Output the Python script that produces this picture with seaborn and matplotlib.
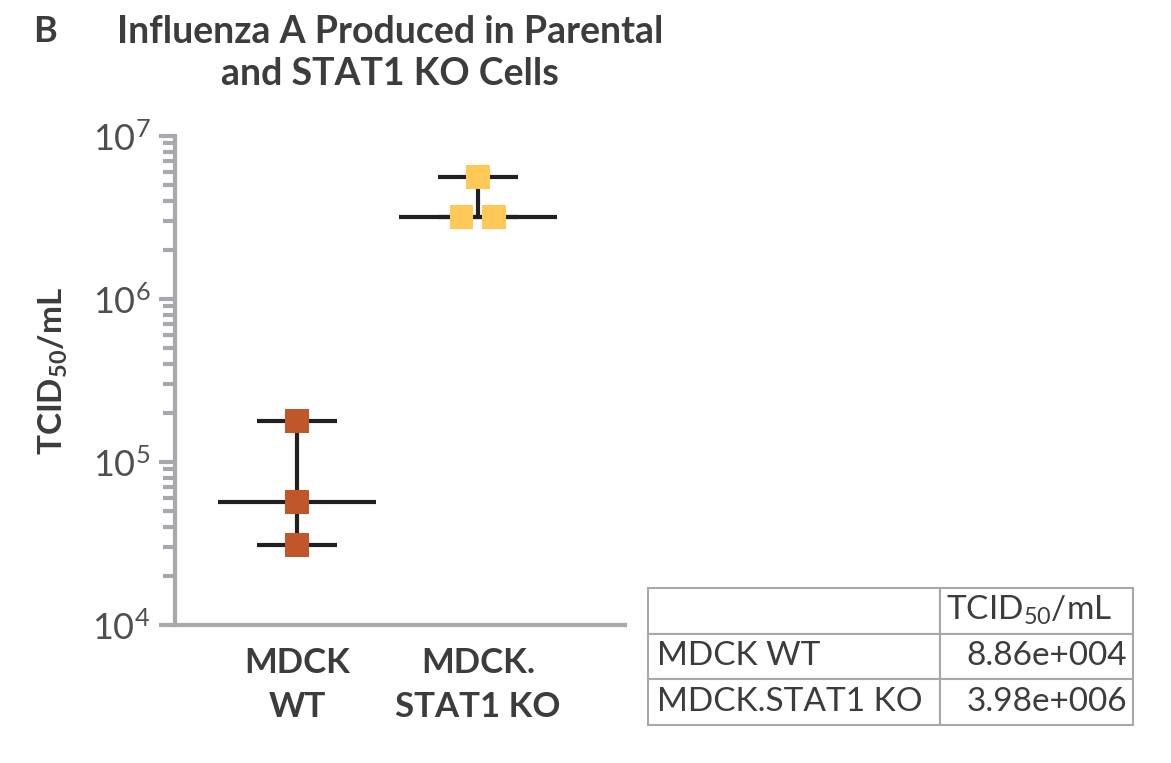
import numpy as np
import pandas as pd
import matplotlib
matplotlib.use("Agg")
import matplotlib.pyplot as plt
import seaborn as sns
from matplotlib.ticker import LogLocator, NullFormatter

# data
groups = ["MDCK\nWT", "MDCK.\nSTAT1 KO"]
wt_values = [1.78e5, 5.7e4, 3.1e4]
ko_values = [5.6e6, 3.17e6, 3.17e6]
group_colors = ["#C0562A", "#FFC857"]

table_header = ["", "TCID$_{50}$/mL"]
table_rows = [["MDCK WT", "8.86e+004"], ["MDCK.STAT1 KO", "3.98e+006"]]

TEXT = "#3C3C3C"
AXIS = "#A7A9AC"
LINE = "#231F20"

sns.set_style("white")
plt.rcParams["font.family"] = ["Lato", "DejaVu Sans"]
plt.rcParams["mathtext.default"] = "regular"

df = pd.DataFrame({
    "group": [groups[0]] * len(wt_values) + [groups[1]] * len(ko_values),
    "titer": wt_values + ko_values,
})
df["gidx"] = df["group"].map({g: i for i, g in enumerate(groups)})
# spread tied values side by side, like the original scatter plot does
df["rank"] = df.groupby(["group", "titer"]).cumcount()
df["nties"] = df.groupby(["group", "titer"])["titer"].transform("size")
df["xpos"] = df["gidx"] + (df["rank"] - (df["nties"] - 1) / 2) * 0.18

fig = plt.figure(figsize=(11.71, 7.63), dpi=100)
ax = fig.add_axes([0.1494, 0.1809, 0.3843, 0.6409])
ax.set_yscale("log")

# median and range bars
for i, g in enumerate(groups):
    v = df.loc[df["group"] == g, "titer"].to_numpy()
    ax.hlines(np.median(v), i - 0.436, i + 0.436, color=LINE, lw=3, zorder=2)
    ax.hlines([v.min(), v.max()], i - 0.22, i + 0.22, color=LINE, lw=3, zorder=2)
    ax.vlines(i, v.min(), v.max(), color=LINE, lw=3, zorder=2)

sns.scatterplot(data=df, x="xpos", y="titer", hue="group", palette=group_colors,
                marker="s", s=17 ** 2, linewidth=0, legend=False, ax=ax, zorder=3)
ax.set_xlim(-0.674, 1.812)
ax.set_ylim(1e4, 1e7)
ax.set_xticks(range(len(groups)))
ax.set_xticklabels(groups)

sns.despine(ax=ax)
for s in ["left", "bottom"]:
    ax.spines[s].set_color(AXIS)
    ax.spines[s].set_linewidth(3)
ax.yaxis.set_major_locator(LogLocator(base=10, numticks=10))
ax.yaxis.set_minor_locator(LogLocator(base=10, subs=np.arange(2, 10), numticks=10))
ax.yaxis.set_minor_formatter(NullFormatter())
ax.tick_params(axis="y", which="major", length=11.5, width=3, color=AXIS,
               labelsize=26, labelcolor="#4F4F4F", pad=6, left=True)
ax.tick_params(axis="y", which="minor", length=8.5, width=3, color=AXIS, left=True)
ax.tick_params(axis="x", length=0, pad=16, labelsize=25, labelcolor=TEXT)
for lab in ax.get_xticklabels():
    lab.set_fontweight("bold")
    lab.set_linespacing(1.45)

ax.set_xlabel("")
ax.set_ylabel("TCID$_{50}$/mL", fontsize=24, fontweight="bold", color=TEXT)
ax.yaxis.set_label_coords(-0.234, 0.52)

fig.text(45 / 1171, 1 - 31 / 763, "B", fontsize=26, fontweight="bold",
         color=TEXT, ha="center", va="center")
fig.text(390 / 1171, 1 - 53 / 763,
         "Influenza A Produced in Parental\nand STAT1 KO Cells",
         fontsize=27, fontweight="bold", color=TEXT, ha="center", va="center",
         linespacing=1.3)

# summary table
tax = fig.add_axes([0.5534, 0.0498, 0.4142, 0.1796])
tax.axis("off")
tbl = tax.table(cellText=[table_header] + table_rows, bbox=[0, 0, 1, 1],
                colWidths=[0.602, 0.398], cellLoc="left")
tbl.auto_set_font_size(False)
for (r, c), cell in tbl.get_celld().items():
    cell.set_edgecolor("#A8A8A8")
    cell.set_linewidth(1.5)
    cell.get_text().set_fontsize(24)
    cell.get_text().set_color(TEXT)
    cell.PAD = 0.03
    if c == 1 and r > 0:
        cell.get_text().set_ha("right")
        cell._loc = "right"

fig.savefig("out.png", dpi=100)
